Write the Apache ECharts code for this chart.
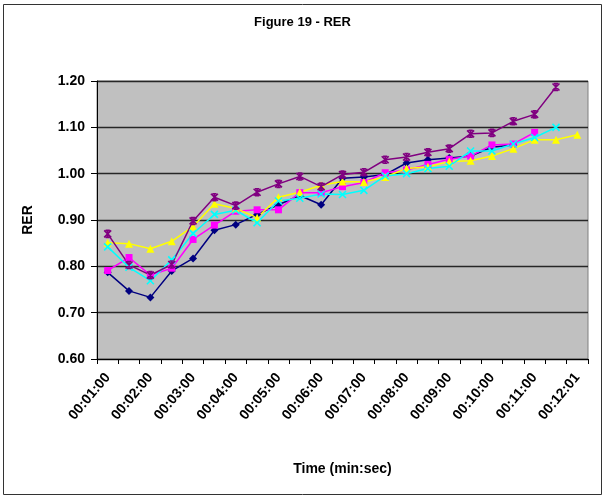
<!DOCTYPE html>
<html>
<head>
<meta charset="utf-8">
<script src="https://cdn.jsdelivr.net/npm/echarts@6/dist/echarts.min.js"></script>
<style>
  html, body { margin: 0; padding: 0; background: #fff; }
  #chart { width: 605px; height: 497px; }
</style>
</head>
<body>
<div id="chart"></div>
<script>
// Sample times (30 s steps)
const times = [
  '00:01:00', '00:01:30', '00:02:00', '00:02:30', '00:03:00', '00:03:30',
  '00:04:00', '00:04:30', '00:05:00', '00:05:30', '00:06:00', '00:06:30',
  '00:07:00', '00:07:30', '00:08:00', '00:08:30', '00:09:00', '00:09:30',
  '00:10:00', '00:10:30', '00:11:00', '00:11:30', '00:12:01'
];

// RER per subject
const rerNavy = [0.787, 0.747, 0.733, 0.790, 0.817, 0.878, 0.890, 0.912, 0.933, 0.953, 0.933, 0.990,
                 0.993, 0.998, 1.023, 1.030, 1.034, 1.038, 1.057, 1.062, null, null, null];
const rerMagenta = [0.791, 0.819, 0.781, 0.796, 0.858, 0.889, 0.919, 0.922, 0.922, 0.959, 0.959, 0.972,
                    0.981, 1.002, 1.008, 1.020, 1.031, 1.038, 1.062, 1.064, 1.089, null, null];
const rerYellow = [0.851, 0.849, 0.838, 0.854, 0.886, 0.935, 0.925, 0.905, 0.949, 0.960, 0.975, 0.983,
                   0.982, 0.993, 1.011, 1.015, 1.026, 1.028, 1.038, 1.054, 1.073, 1.073, 1.084];
const rerCyan = [0.842, 0.798, 0.769, 0.814, 0.871, 0.912, 0.921, 0.894, 0.941, 0.947, 0.956, 0.955,
                 0.964, 0.995, 1.000, 1.011, 1.016, 1.049, 1.049, 1.064, 1.078, 1.100, null];
const rerPurple = [0.870, 0.803, 0.781, 0.804, 0.898, 0.949, 0.931, 0.960, 0.978, 0.994, 0.972, 0.998,
                   1.003, 1.030, 1.036, 1.046, 1.054, 1.086, 1.088, 1.113, 1.128, 1.187, null];

const FONT = '"Liberation Sans", Arial, sans-serif';
const X_MARK = 'path://M0,0L10,10M10,0L0,10';
const STAR_MARK = 'path://M0,0L10,10M10,0L0,10M5,0L5,10M2,0L8,0M2,10L8,10';

function lineSeries(data, color, symbol, size, stroked) {
  return {
    type: 'line',
    data: data,
    symbol: symbol,
    symbolSize: size,
    showAllSymbol: true,
    connectNulls: false,
    lineStyle: { color: color, width: 1.5 },
    itemStyle: stroked
      ? { color: 'none', borderColor: color, borderWidth: 1.6 }
      : { color: color, borderWidth: 0 },
    emphasis: { disabled: true },
    animation: false
  };
}

const chart = echarts.init(document.getElementById('chart'), null, { renderer: 'canvas' });
chart.setOption({
  animation: false,
  title: {
    text: 'Figure 19 - RER',
    left: 'center',
    top: 11,
    textStyle: { fontFamily: FONT, fontSize: 13, fontWeight: 'bold', color: '#000' }
  },
  graphic: [{
    type: 'rect',
    shape: { x: 3.5, y: 4.5, width: 598, height: 490 },
    style: { fill: 'none', stroke: '#333', lineWidth: 1 },
    silent: true
  }],
  grid: {
    left: 97, right: 17, top: 81, bottom: 138,
    show: true,
    backgroundColor: '#C0C0C0',
    borderColor: '#808080',
    borderWidth: 1
  },
  xAxis: {
    type: 'category',
    data: times,
    boundaryGap: true,
    name: 'Time (min:sec)',
    nameLocation: 'middle',
    nameGap: 103,
    nameTextStyle: { fontFamily: FONT, fontSize: 14, fontWeight: 'bold', color: '#000' },
    axisLine: { show: true, lineStyle: { color: '#000', width: 1 } },
    axisTick: { show: true, interval: 0, length: 5, lineStyle: { color: '#000' } },
    axisLabel: {
      interval: 1,
      rotate: 50,
      margin: 16,
      fontFamily: FONT, fontSize: 14, fontWeight: 'bold', color: '#000'
    },
    splitLine: { show: false }
  },
  yAxis: {
    type: 'value',
    min: 0.6, max: 1.2, interval: 0.1,
    name: 'RER',
    nameLocation: 'middle',
    nameGap: 62,
    nameTextStyle: { fontFamily: FONT, fontSize: 14, fontWeight: 'bold', color: '#000' },
    axisLine: { show: true, lineStyle: { color: '#000', width: 1 } },
    axisTick: { show: true, length: 6, lineStyle: { color: '#000' } },
    axisLabel: {
      margin: 12,
      formatter: v => v.toFixed(2),
      fontFamily: FONT, fontSize: 14, fontWeight: 'bold', color: '#000'
    },
    splitLine: { show: true, lineStyle: { color: '#262626', width: 1.3 } }
  },
  series: [
    lineSeries(rerNavy, '#000080', 'diamond', 8, false),
    lineSeries(rerMagenta, '#FF00FF', 'rect', 7, false),
    lineSeries(rerYellow, '#FFFF00', 'triangle', 8, false),
    lineSeries(rerCyan, '#00FFFF', X_MARK, 7, true),
    lineSeries(rerPurple, '#800080', STAR_MARK, 7, true)
  ]
});
</script>
</body>
</html>
